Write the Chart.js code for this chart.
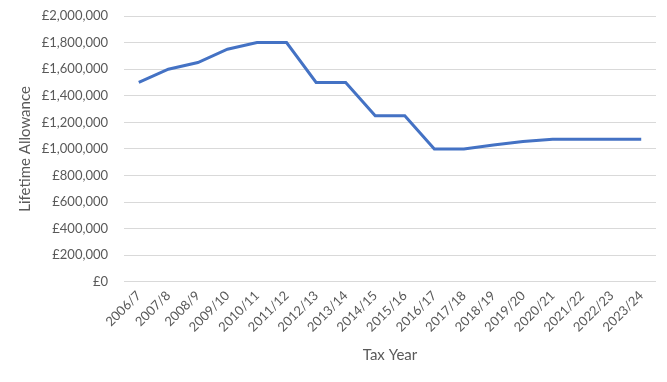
<!DOCTYPE html>
<html>
<head>
<meta charset="utf-8">
<script src="https://cdn.jsdelivr.net/npm/chart.js@4"></script>
<style>
  html, body { margin: 0; padding: 0; background: #fff; }
  #wrap { width: 667px; height: 382px; }
</style>
</head>
<body>
<div id="wrap"><canvas id="lifetimeChart" width="667" height="382"></canvas></div>
<script>
const taxYears = ['2006/7', '2007/8', '2008/9', '2009/10', '2010/11', '2011/12', '2012/13', '2013/14', '2014/15',
  '2015/16', '2016/17', '2017/18', '2018/19', '2019/20', '2020/21', '2021/22', '2022/23', '2023/24'];
const allowance = [1500000, 1600000, 1650000, 1750000, 1800000, 1800000, 1500000, 1500000, 1250000,
  1250000, 1000000, 1000000, 1030000, 1055000, 1073100, 1073100, 1073100, 1073100];
const yTicks = [0, 200000, 400000, 600000, 800000, 1000000, 1200000, 1400000, 1600000, 1800000, 2000000];

const fontFamily = 'Lato, "Open Sans", sans-serif';

const ctx = document.getElementById('lifetimeChart').getContext('2d');
new Chart(ctx, {
  type: 'line',
  data: {
    labels: taxYears,
    datasets: [{
      data: allowance,
      borderColor: '#4472C4',
      borderWidth: 3,
      pointRadius: 0,
      tension: 0,
      fill: false
    }]
  },
  options: {
    responsive: false,
    animation: false,
    layout: { padding: { top: 16, right: 11, left: 12, bottom: 14 } },
    plugins: { legend: { display: false }, tooltip: { enabled: false } },
    scales: {
      x: {
        offset: true,
        grid: { display: false, drawTicks: false },
        border: { display: false },
        ticks: {
          color: '#595959',
          font: { family: fontFamily, size: 13 },
          maxRotation: 45,
          minRotation: 45,
          padding: 6,
          autoSkip: false
        },
        title: {
          display: true,
          text: 'Tax Year',
          color: '#595959',
          font: { family: fontFamily, size: 15 },
          padding: { top: 5 }
        }
      },
      y: {
        min: 0,
        max: 2000000,
        afterBuildTicks: axis => { axis.ticks = yTicks.map(v => ({ value: v })); },
        afterFit: axis => {
          axis.width = 112;
          axis.paddingTop = 0;
        },
        grid: { color: '#D9D9D9', lineWidth: 1, drawTicks: false },
        border: { display: false },
        ticks: {
          color: '#595959',
          font: { family: fontFamily, size: 13 },
          padding: 16,
          callback: v => '£' + v.toLocaleString('en-GB')
        },
        title: {
          display: true,
          text: 'Lifetime Allowance',
          color: '#595959',
          font: { family: fontFamily, size: 15 },
          padding: { bottom: 2 }
        }
      }
    }
  }
});
</script>
</body>
</html>
